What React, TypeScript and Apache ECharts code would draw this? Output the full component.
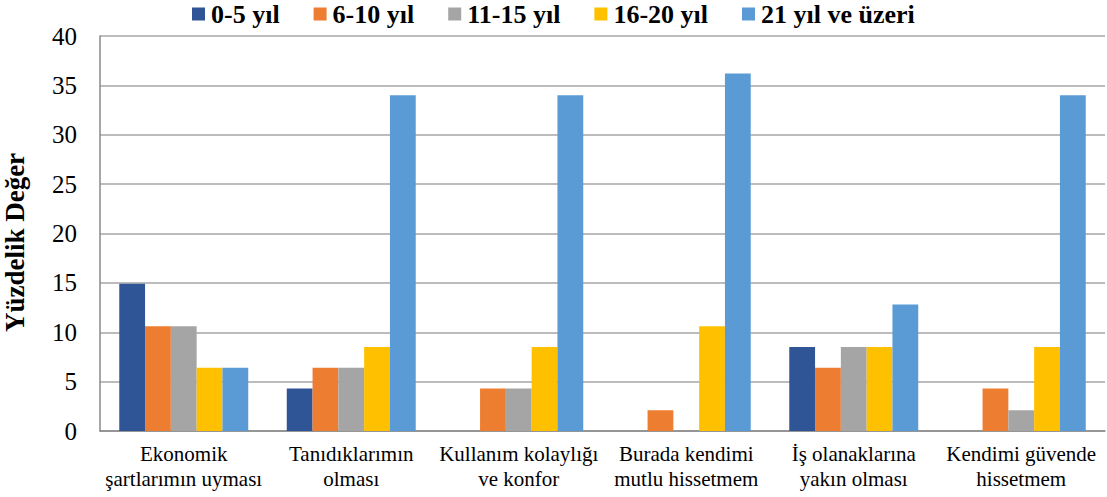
import React, { useEffect, useRef } from "react";
import * as echarts from "echarts";

const categories = [
  "Ekonomik\nşartlarımın uyması",
  "Tanıdıklarımın\nolması",
  "Kullanım kolaylığı\nve konfor",
  "Burada kendimi\nmutlu hissetmem",
  "İş olanaklarına\nyakın olması",
  "Kendimi güvende\nhissetmem",
];
const seriesNames = ["0-5 yıl", "6-10 yıl", "11-15 yıl", "16-20 yıl", "21 yıl ve üzeri"];
const s0_5 = [14.9, 4.3, 0, 0, 8.5, 0];
const s6_10 = [10.6, 6.4, 4.3, 2.1, 6.4, 4.3];
const s11_15 = [10.6, 6.4, 4.3, 0, 8.5, 2.1];
const s16_20 = [6.4, 8.5, 8.5, 10.6, 8.5, 8.5];
const s21 = [6.4, 34.0, 34.0, 36.2, 12.8, 34.0];
const colors = ["#2F5597", "#ED7D31", "#A5A5A5", "#FFC000", "#5B9BD5"];
const yTicks = { min: 0, max: 40, interval: 5 };

export default function App() {
  const ref = useRef<HTMLDivElement>(null);
  useEffect(() => {
    if (!ref.current) return;
    const chart = echarts.init(ref.current, null, { renderer: "svg" });
    const data = [s0_5, s6_10, s11_15, s16_20, s21];
    chart.setOption({
      animation: false,
      textStyle: { fontFamily: "Liberation Serif" },
      legend: {
        top: -4,
        left: 187,
        itemWidth: 13,
        itemHeight: 13,
        itemGap: 34,
        icon: "rect",
        textStyle: { fontFamily: "Liberation Serif", fontWeight: "bold", fontSize: 26, color: "#000", padding: [0, 0, 0, 1] },
        data: seriesNames,
      },
      grid: { left: 100, right: 2, top: 36, bottom: 66, outerBoundsMode: "none", containLabel: false },
      xAxis: {
        type: "category",
        data: categories,
        axisLine: { lineStyle: { color: "#898989", width: 1.5 } },
        axisTick: { show: false },
        axisLabel: { fontFamily: "Liberation Serif", fontSize: 21, color: "#000", lineHeight: 25, margin: 10, interval: 0 },
      },
      yAxis: {
        type: "value",
        min: yTicks.min,
        max: yTicks.max,
        interval: yTicks.interval,
        name: "Yüzdelik Değer",
        nameLocation: "middle",
        nameGap: 72,
        nameTextStyle: { fontFamily: "Liberation Serif", fontWeight: "bold", fontSize: 27, color: "#000", padding: [0, 18, 0, 0] },
        axisLine: { show: true, lineStyle: { color: "#898989", width: 1.5 } },
        axisTick: { show: false },
        axisLabel: { fontFamily: "Liberation Serif", fontSize: 25, color: "#000", margin: 23 },
        splitLine: { lineStyle: { color: "#A6A6A6", width: 1.5 } },
      },
      series: seriesNames.map((n, i) => ({
        name: n,
        type: "bar",
        data: data[i],
        barGap: "0%",
        barCategoryGap: "23%",
        itemStyle: { color: colors[i] },
      })),
    });
    return () => chart.dispose();
  }, []);
  return <div ref={ref} style={{ width: 1107, height: 497, position: "absolute", left: 0, top: 0 }} />;
}
